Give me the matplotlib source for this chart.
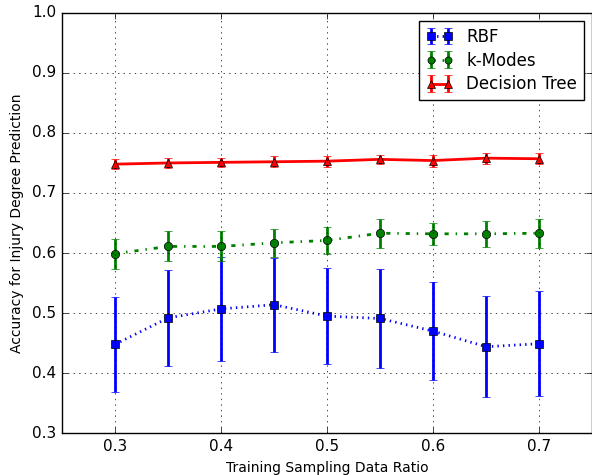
import matplotlib
matplotlib.use("Agg")
import matplotlib.pyplot as plt

ratios = [0.3, 0.35, 0.4, 0.45, 0.5, 0.55, 0.6, 0.65, 0.7]

rbf_mean = [0.448, 0.492, 0.507, 0.514, 0.495, 0.491, 0.470, 0.444, 0.449]
rbf_err = [0.079, 0.080, 0.086, 0.078, 0.080, 0.083, 0.082, 0.084, 0.087]

kmodes_mean = [0.599, 0.611, 0.611, 0.617, 0.621, 0.633, 0.632, 0.632, 0.633]
kmodes_err = [0.025, 0.025, 0.025, 0.023, 0.022, 0.024, 0.018, 0.022, 0.024]

tree_mean = [0.748, 0.750, 0.751, 0.752, 0.753, 0.756, 0.754, 0.758, 0.757]
tree_err = [0.008, 0.009, 0.008, 0.009, 0.009, 0.008, 0.010, 0.009, 0.009]

plt.style.use("classic")
fig = plt.figure(figsize=(5.92, 4.75), dpi=100, facecolor="white")
ax = fig.add_axes([0.105, 0.088, 0.895, 0.885])

ax.errorbar(ratios, rbf_mean, yerr=rbf_err, color="b", ls=":", lw=2, marker="s",
            ms=6, elinewidth=2, capsize=3, label="RBF")
ax.errorbar(ratios, kmodes_mean, yerr=kmodes_err, color="g", ls="-.", lw=2, marker="o",
            ms=6, elinewidth=2, capsize=3, label="k-Modes")
ax.errorbar(ratios, tree_mean, yerr=tree_err, color="r", ls="-", lw=2, marker="^",
            ms=6, elinewidth=2, capsize=3, label="Decision Tree")

ax.set_xlim(0.25, 0.75)
ax.set_ylim(0.3, 1.0)
ax.set_xticks([0.3, 0.4, 0.5, 0.6, 0.7])
ax.grid(True)
ax.tick_params(labelsize=11)
ax.set_xlabel("Training Sampling Data Ratio", fontsize=10)
ax.set_ylabel("Accuracy for Injury Degree Prediction", fontsize=10, labelpad=6)
ax.legend(loc="upper right", numpoints=2, fontsize=12, handlelength=1.6,
          markerscale=0.85, labelspacing=0.35, borderaxespad=0.5)

fig.savefig("out.png", dpi=100, facecolor="white")
